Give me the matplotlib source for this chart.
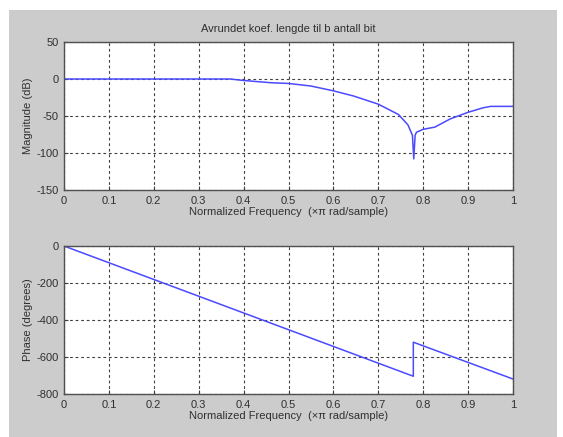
import matplotlib
matplotlib.use("Agg")
import matplotlib.pyplot as plt
from matplotlib.patches import Rectangle

# frequency response of the rounded-coefficient filter
mag_w = [0, 0.37, 0.40, 0.46, 0.50, 0.55, 0.60, 0.645, 0.70, 0.745, 0.766,
         0.776, 0.779, 0.782, 0.785, 0.80, 0.826, 0.86, 0.90, 0.933, 0.95, 1.0]
mag_db = [0, 0, -2, -5, -6, -9.5, -16, -23, -34, -48, -62,
          -76, -108, -76, -72, -68, -65, -54, -45, -39, -37, -37]

phase_w = [0, 0.778, 0.778, 1.0]
phase_deg = [0, -704, -520, -719]

xticks = [0, 0.1, 0.2, 0.3, 0.4, 0.5, 0.6, 0.7, 0.8, 0.9, 1]
mag_ticks = [-150, -100, -50, 0, 50]
phase_ticks = [-800, -600, -400, -200, 0]

plt.rcParams['font.family'] = ['Liberation Sans', 'DejaVu Sans']
plt.rcParams['font.size'] = 8
plt.rcParams['axes.unicode_minus'] = False

fig = plt.figure(figsize=(5.63, 4.37), dpi=100, facecolor='white')
fig.patches.append(Rectangle((9 / 563, 0), 548 / 563, 427 / 437,
                             transform=fig.transFigure, facecolor='#cccccc',
                             edgecolor='none', zorder=-10))

left, width, height = 64 / 563, 449 / 563, 148 / 437
ax1 = fig.add_axes([left, 247 / 437, width, height])
ax2 = fig.add_axes([left, 43 / 437, width, height])


def style(ax, yticks):
    ax.set_facecolor('white')
    ax.set_xlim(0, 1)
    ax.set_ylim(yticks[0], yticks[-1])
    ax.set_xticks(xticks)
    ax.set_xticklabels(['0', '0.1', '0.2', '0.3', '0.4', '0.5', '0.6',
                        '0.7', '0.8', '0.9', '1'])
    ax.set_yticks(yticks)
    ax.grid(True, color='#404040', linestyle=(0, (2.5, 2.5)), linewidth=0.8)
    ax.tick_params(direction='in', length=3, color='#404040',
                   labelcolor='#303030', labelsize=8, pad=4)
    for s in ax.spines.values():
        s.set_color('#505050')
        s.set_linewidth(1)
    ax.set_xlabel('Normalized Frequency  (\u00d7\u03c0 rad/sample)',
                  color='#303030', labelpad=1)


ax1.plot(mag_w, mag_db, color='#4a4aff', linewidth=1.1)
style(ax1, mag_ticks)
ax1.set_ylabel('Magnitude (dB)', color='#303030', labelpad=2)
ax1.set_title('Avrundet koef. lengde til b antall bit', color='#303030',
              fontsize=8, pad=7)

ax2.plot(phase_w, phase_deg, color='#4a4aff', linewidth=1.1)
style(ax2, phase_ticks)
ax2.set_ylabel('Phase (degrees)', color='#303030', labelpad=2)

fig.savefig('out.png', dpi=100, facecolor='white')
